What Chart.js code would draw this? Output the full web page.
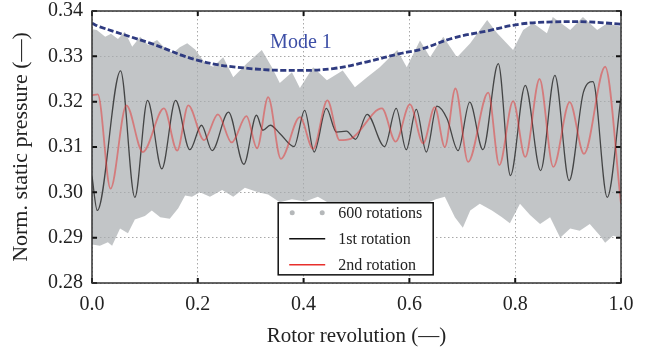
<!DOCTYPE html>
<html>
<head>
<meta charset="utf-8">
<script src="https://cdn.jsdelivr.net/npm/chart.js@4.4.0/dist/chart.umd.min.js"></script>
<style>
  html, body { margin: 0; padding: 0; background: #fff; }
  #wrap { width: 649px; height: 351px; }
</style>
</head>
<body>
<div id="wrap"><canvas id="pressureChart" width="649" height="351"></canvas></div>
<script>
// Envelope of the 600 measured rotations (upper and lower edge of the cloud)
const upperX = [0, 0.009, 0.025, 0.036, 0.049, 0.062, 0.076, 0.091, 0.106, 0.123, 0.138, 0.153, 0.166, 0.180, 0.195,
  0.214, 0.229, 0.248, 0.267, 0.293, 0.321, 0.340, 0.355, 0.378, 0.393, 0.418, 0.444, 0.474, 0.497, 0.520, 0.544,
  0.577, 0.595, 0.620, 0.639, 0.664, 0.690, 0.715, 0.747, 0.766, 0.796, 0.815, 0.834, 0.860, 0.871, 0.904, 0.928,
  0.955, 0.974, 1.0];
const upperY = [0.3360, 0.3358, 0.3343, 0.3350, 0.3338, 0.3354, 0.3321, 0.3343, 0.3325, 0.3336, 0.3318, 0.3307, 0.3320, 0.3329, 0.3315,
  0.3285, 0.3277, 0.3298, 0.3254, 0.3285, 0.3314, 0.3276, 0.3241, 0.3265, 0.3230, 0.3276, 0.3247, 0.3269, 0.3232, 0.3254, 0.3276,
  0.3314, 0.3276, 0.3335, 0.3298, 0.3343, 0.3298, 0.3329, 0.3380, 0.3351, 0.3314, 0.3358, 0.3373, 0.3351, 0.3387, 0.3358, 0.3387,
  0.3358, 0.3373, 0.3365];
const lowerX = [0, 0.015, 0.030, 0.038, 0.053, 0.068, 0.081, 0.100, 0.113, 0.129, 0.147, 0.163, 0.176, 0.189, 0.204,
  0.223, 0.246, 0.267, 0.289, 0.314, 0.333, 0.355, 0.378, 0.403, 0.427, 0.450, 0.478, 0.507, 0.544, 0.582, 0.620,
  0.650, 0.667, 0.686, 0.701, 0.715, 0.733, 0.756, 0.775, 0.790, 0.809, 0.828, 0.847, 0.866, 0.885, 0.904, 0.922,
  0.941, 0.960, 0.970, 0.985, 1.0];
const lowerY = [0.2885, 0.2882, 0.2890, 0.2882, 0.2920, 0.2910, 0.2940, 0.2948, 0.2960, 0.2945, 0.2942, 0.2965, 0.2993, 0.2990, 0.3000,
  0.2990, 0.3005, 0.2990, 0.3010, 0.3000, 0.2995, 0.2978, 0.2985, 0.2980, 0.2990, 0.2975, 0.2965, 0.2975, 0.2970, 0.2965, 0.2970,
  0.2985, 0.2990, 0.2945, 0.2922, 0.2960, 0.2975, 0.2960, 0.2945, 0.2932, 0.2975, 0.2950, 0.2930, 0.2945, 0.2900, 0.2920, 0.2915,
  0.2930, 0.2905, 0.2889, 0.2904, 0.2900];

// Mode 1 fit
const modeX = [0, 0.015, 0.110, 0.204, 0.299, 0.393, 0.456, 0.520, 0.582, 0.620, 0.682, 0.747, 0.809, 0.872, 0.936, 1.0];
const modeY = [0.3373, 0.3365, 0.3329, 0.3290, 0.3273, 0.3269, 0.3273, 0.3288, 0.3306, 0.3315, 0.3340, 0.3356, 0.3371, 0.3376, 0.3376, 0.3371];

// 1st rotation (turning points)
const firstX = [0, 0.010, 0.054, 0.081, 0.105, 0.132, 0.158, 0.185, 0.207, 0.227, 0.258, 0.287, 0.311, 0.323, 0.337,
  0.355, 0.382, 0.402, 0.420, 0.443, 0.462, 0.481, 0.498, 0.520, 0.553, 0.575, 0.594, 0.613, 0.632, 0.652, 0.671,
  0.692, 0.714, 0.739, 0.768, 0.791, 0.819, 0.848, 0.875, 0.902, 0.929, 0.947, 0.974, 1.0];
const firstY = [0.3035, 0.2960, 0.3268, 0.2989, 0.3203, 0.3052, 0.3203, 0.3094, 0.3148, 0.3092, 0.3177, 0.3062, 0.3170, 0.3137, 0.3148,
  0.3130, 0.3101, 0.3181, 0.3089, 0.3185, 0.3133, 0.3135, 0.3117, 0.3172, 0.3101, 0.3185, 0.3094, 0.3183, 0.3089, 0.3190, 0.3163,
  0.3092, 0.3199, 0.3094, 0.3284, 0.3037, 0.3236, 0.3048, 0.3258, 0.3026, 0.3221, 0.3244, 0.2989, 0.3210];

// 2nd rotation (turning points)
const secondX = [0, 0.011, 0.035, 0.065, 0.096, 0.136, 0.161, 0.182, 0.212, 0.238, 0.264, 0.292, 0.312, 0.333, 0.357,
  0.393, 0.418, 0.445, 0.468, 0.489, 0.548, 0.574, 0.601, 0.626, 0.648, 0.667, 0.687, 0.711, 0.749, 0.770, 0.796,
  0.819, 0.846, 0.872, 0.903, 0.930, 0.970, 1.0];
const secondY = [0.3214, 0.3216, 0.3008, 0.3192, 0.3089, 0.3185, 0.3092, 0.3192, 0.3115, 0.3172, 0.3110, 0.3168, 0.3097, 0.3210, 0.3074,
  0.3166, 0.3096, 0.3203, 0.3115, 0.3118, 0.3185, 0.3112, 0.3194, 0.3108, 0.3188, 0.3100, 0.3229, 0.3067, 0.3220, 0.3060, 0.3201,
  0.3078, 0.3250, 0.3056, 0.3199, 0.3085, 0.3277, 0.2975];

const xTicks = [0, 0.2, 0.4, 0.6, 0.8, 1.0];
const yTicks = [0.28, 0.29, 0.30, 0.31, 0.32, 0.33, 0.34];

const toPoints = (xs, ys) => xs.map((x, i) => ({ x: x, y: ys[i] }));

const serif = '"Liberation Serif", "DejaVu Serif", serif';
const bandGray = 'rgba(168, 172, 175, 0.70)';

// frame, inward ticks, mode label and legend box
const framePlugin = {
    id: 'frame',
    afterDatasetsDraw(chart) {
        const { ctx, chartArea: a, scales } = chart;
        const sx = scales.x, sy = scales.y;
        ctx.save();

        ctx.strokeStyle = '#111';
        ctx.lineWidth = 2;
        ctx.beginPath();
        xTicks.forEach(v => {
            const p = sx.getPixelForValue(v);
            ctx.moveTo(p, a.bottom); ctx.lineTo(p, a.bottom - 5);
            ctx.moveTo(p, a.top); ctx.lineTo(p, a.top + 5);
        });
        yTicks.forEach(v => {
            const p = sy.getPixelForValue(v);
            ctx.moveTo(a.left, p); ctx.lineTo(a.left + 5, p);
            ctx.moveTo(a.right, p); ctx.lineTo(a.right - 5, p);
        });
        ctx.stroke();

        ctx.strokeStyle = '#333';
        ctx.lineWidth = 1.5;
        ctx.strokeRect(a.left, a.top, a.right - a.left, a.bottom - a.top);

        // Mode 1 label
        ctx.fillStyle = '#3c4ea6';
        ctx.font = '20px ' + serif;
        ctx.textAlign = 'center';
        ctx.textBaseline = 'alphabetic';
        ctx.fillText('Mode 1', sx.getPixelForValue(0.395), sy.getPixelForValue(0.3318));

        // legend
        const ds = chart.data.datasets;
        const left = sx.getPixelForValue(0.352);
        const right = sx.getPixelForValue(0.645);
        const top = sy.getPixelForValue(0.2977);
        const bottom = sy.getPixelForValue(0.2818);
        ctx.fillStyle = '#fff';
        ctx.fillRect(left, top, right - left, bottom - top);
        ctx.strokeStyle = '#111';
        ctx.lineWidth = 1.5;
        ctx.strokeRect(left, top, right - left, bottom - top);

        const rows = [
            { label: ds[1].label, kind: 'dots', color: '#b5b8ba' },
            { label: ds[3].label, kind: 'line', color: '#111' },
            { label: ds[4].label, kind: 'line', color: '#e8302c' }
        ];
        ctx.font = '16px ' + serif;
        ctx.textAlign = 'left';
        ctx.textBaseline = 'middle';
        rows.forEach((r, i) => {
            const cy = top + 10 + i * 26;
            if (r.kind === 'dots') {
                ctx.fillStyle = r.color;
                [left + 14, left + 44].forEach(cx => {
                    ctx.beginPath();
                    ctx.arc(cx, cy, 2.5, 0, Math.PI * 2);
                    ctx.fill();
                });
            } else {
                ctx.strokeStyle = r.color;
                ctx.lineWidth = 1.6;
                ctx.beginPath();
                ctx.moveTo(left + 11, cy);
                ctx.lineTo(left + 47, cy);
                ctx.stroke();
            }
            ctx.fillStyle = '#222';
            ctx.fillText(r.label, left + 60, cy + 1);
        });

        ctx.restore();
    }
};

const ctx = document.getElementById('pressureChart').getContext('2d');
const chart = new Chart(ctx, {
    type: 'line',
    data: {
        datasets: [
            {
                label: 'lower',
                data: toPoints(lowerX, lowerY),
                borderWidth: 0,
                pointRadius: 0,
                tension: 0,
                fill: false,
                order: 6
            },
            {
                label: '600 rotations',
                data: toPoints(upperX, upperY),
                borderWidth: 0,
                pointRadius: 0,
                tension: 0,
                backgroundColor: bandGray,
                fill: '-1',
                order: 5
            },
            {
                label: 'Mode 1',
                data: toPoints(modeX, modeY),
                borderColor: '#2f3b80',
                borderWidth: 2.8,
                borderDash: [6, 2.5],
                pointRadius: 0,
                tension: 0.4,
                fill: false,
                order: 3
            },
            {
                label: '1st rotation',
                data: toPoints(firstX, firstY),
                borderColor: 'rgba(20, 20, 20, 0.72)',
                borderWidth: 1.3,
                pointRadius: 0,
                cubicInterpolationMode: 'monotone',
                fill: false,
                order: 2
            },
            {
                label: '2nd rotation',
                data: toPoints(secondX, secondY),
                borderColor: 'rgba(230, 50, 50, 0.5)',
                borderWidth: 1.8,
                pointRadius: 0,
                cubicInterpolationMode: 'monotone',
                fill: false,
                order: 1
            }
        ]
    },
    options: {
        responsive: false,
        animation: false,
        layout: { padding: { top: 11, right: 28, left: 0, bottom: 0 } },
        plugins: {
            legend: { display: false },
            tooltip: { enabled: false }
        },
        scales: {
            x: {
                type: 'linear',
                min: 0,
                max: 1,
                afterFit: s => { s.height = 68; s.paddingLeft = 0; s.paddingRight = 0; },
                afterBuildTicks: s => { s.ticks = xTicks.map(v => ({ value: v })); },
                ticks: {
                    padding: 10,
                    maxRotation: 0,
                    autoSkip: false,
                    color: '#222',
                    font: { family: serif, size: 20 },
                    callback: v => v.toFixed(1)
                },
                grid: { color: '#a8a8a8', lineWidth: 1, drawTicks: false },
                border: { display: false, dash: [1.5, 2.5] },
                title: {
                    display: true,
                    text: 'Rotor revolution (\u2014)',
                    color: '#222',
                    font: { family: serif, size: 21 },
                    padding: { top: 0, bottom: 2 }
                }
            },
            y: {
                min: 0.28,
                max: 0.34,
                afterFit: s => { s.width = 92; s.paddingTop = 0; s.paddingBottom = 0; },
                afterBuildTicks: s => { s.ticks = yTicks.map(v => ({ value: v })); },
                ticks: {
                    padding: 9,
                    color: '#222',
                    font: { family: serif, size: 20 },
                    callback: v => v.toFixed(2)
                },
                grid: { color: '#a8a8a8', lineWidth: 1, drawTicks: false },
                border: { display: false, dash: [1.5, 2.5] },
                title: {
                    display: true,
                    text: 'Norm. static pressure (\u2014)',
                    color: '#222',
                    font: { family: serif, size: 22 },
                    padding: { top: 8, bottom: 0 }
                }
            }
        }
    },
    plugins: [framePlugin]
});
</script>
</body>
</html>
